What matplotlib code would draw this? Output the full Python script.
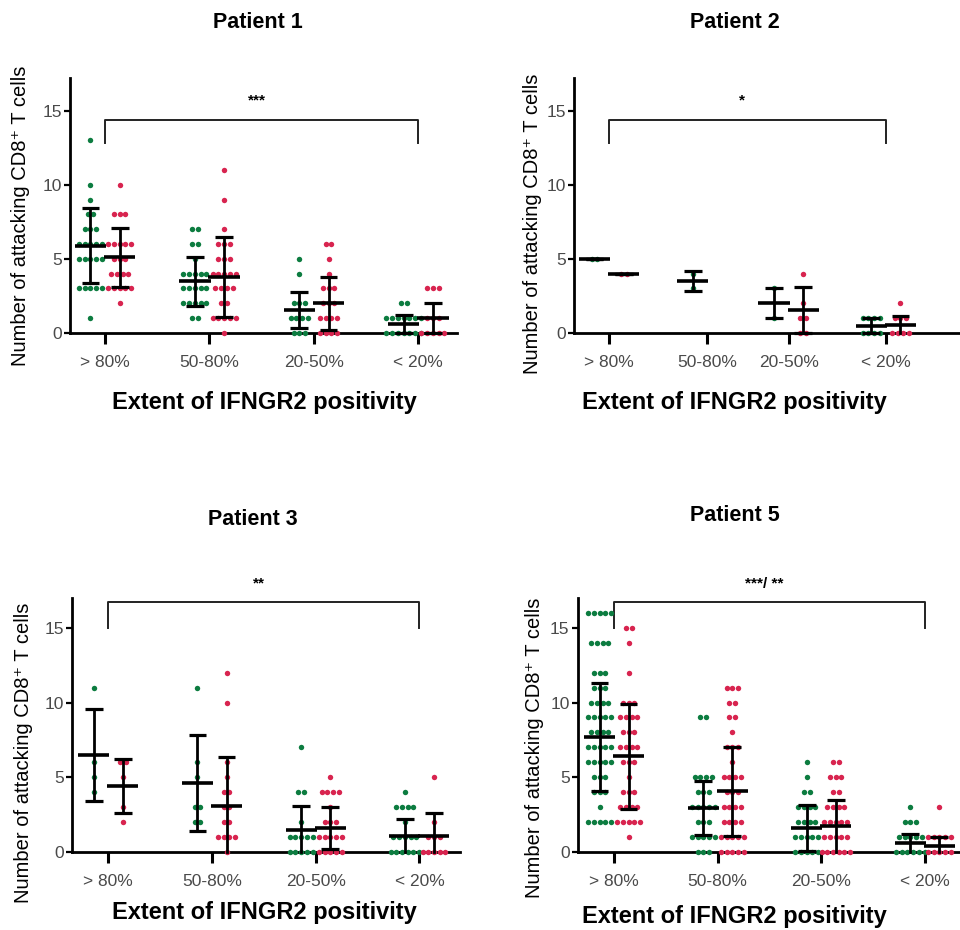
import matplotlib
matplotlib.use("Agg")
import matplotlib.pyplot as plt
import numpy as np

plt.rcParams['font.family'] = ['Liberation Sans', 'DejaVu Sans']

categories = ["> 80%", "50-80%", "20-50%", "< 20%"]

# patient 1
p1_green = [
    [13, 10, 9, 8, 8, 7, 7, 7, 6, 6, 6, 6, 6, 5, 5, 5, 5, 5, 3, 3, 3, 3, 3, 1],
    [7, 7, 6, 6, 5, 4, 4, 4, 4, 4, 3, 3, 3, 3, 3, 2, 2, 2, 2, 2, 1, 1],
    [5, 4, 2, 2, 2, 1, 1, 1, 1, 0, 0, 0],
    [2, 2, 1, 1, 1, 1, 1, 1, 1, 0, 0, 0, 0, 0, 0, 0],
]
p1_red = [
    [10, 8, 8, 8, 6, 6, 6, 6, 6, 5, 5, 5, 4, 4, 4, 4, 3, 3, 3, 3, 3, 2],
    [11, 9, 7, 6, 6, 6, 5, 5, 5, 4, 4, 4, 4, 4, 3, 3, 3, 3, 2, 2, 1, 1, 1, 1, 1, 0],
    [6, 6, 5, 4, 3, 3, 3, 2, 2, 2, 1, 1, 1, 1, 0, 0, 0, 0],
    [3, 3, 3, 1, 1, 1, 0, 0, 0, 0, 0],
]
p1_green_mean = [5.9, 3.5, 1.55, 0.6]
p1_green_sd = [2.5, 1.65, 1.2, 0.6]
p1_red_mean = [5.1, 3.8, 2.0, 1.0]
p1_red_sd = [2.0, 2.7, 1.8, 1.0]

# patient 2
p2_green = [[5, 5], [4, 3], [3, 1], [1, 1, 1, 1, 0, 0, 0, 0]]
p2_red = [[4, 4], [], [4, 2, 1, 1, 0, 0], [2, 1, 1, 1, 0, 0, 0, 0]]
p2_green_mean = [5.0, 3.5, 2.0, 0.5]
p2_green_sd = [0.0, 0.7, 1.0, 0.5]
p2_red_mean = [4.0, np.nan, 1.55, 0.55]
p2_red_sd = [0.0, np.nan, 1.55, 0.6]

# patient 3
p3_green = [
    [11, 6, 5, 4],
    [11, 6, 5, 3, 3, 2, 2],
    [7, 4, 4, 2, 1, 1, 1, 1, 1, 0, 0, 0, 0, 0],
    [4, 3, 3, 3, 3, 2, 1, 1, 1, 1, 1, 0, 0, 0, 0, 0, 0],
]
p3_red = [
    [6, 6, 5, 3, 2],
    [12, 10, 6, 5, 4, 4, 3, 3, 2, 2, 1, 1, 1, 1, 0],
    [5, 4, 4, 4, 4, 3, 2, 2, 2, 1, 1, 1, 1, 1, 0, 0, 0, 0, 0],
    [5, 2, 1, 1, 1, 0, 0, 0, 0, 0],
]
p3_green_mean = [6.5, 4.6, 1.45, 1.05]
p3_green_sd = [3.1, 3.2, 1.6, 1.15]
p3_red_mean = [4.4, 3.1, 1.6, 1.05]
p3_red_sd = [1.8, 3.25, 1.4, 1.55]

# patient 5
p5_green = [
    [16] * 5 + [14] * 4 + [12] * 3 + [11] * 3 + [10] * 4 + [9] * 5 + [8] * 4
    + [7] * 5 + [6] * 5 + [5] * 3 + [4] * 3 + [3] + [2] * 5,
    [9] * 2 + [5] * 4 + [4] * 3 + [3] * 5 + [2] * 3 + [1] * 5 + [0] * 3,
    [6, 5] + [4] * 2 + [3] * 4 + [2] * 4 + [1] * 5 + [0] * 5,
    [3] + [2] * 3 + [1] * 5 + [0] * 6,
]
p5_red = [
    [15] * 2 + [14, 12] + [10] * 3 + [9] * 4 + [8] * 3 + [7] * 4 + [6] * 3
    + [5] + [4] * 3 + [3] * 4 + [2] * 5 + [1],
    [11] * 3 + [10] * 2 + [9] * 2 + [8] + [7] * 3 + [6] + [5] * 4 + [4] * 3
    + [3] * 4 + [2] * 4 + [1] * 5 + [0] * 5,
    [6] * 2 + [5] * 3 + [4] * 2 + [3] * 4 + [2] * 5 + [1] * 5 + [0] * 6,
    [3] + [1] * 5 + [0] * 5,
]
p5_green_mean = [7.7, 2.95, 1.6, 0.58]
p5_green_sd = [3.6, 1.8, 1.55, 0.62]
p5_red_mean = [6.4, 4.05, 1.7, 0.42]
p5_red_sd = [3.5, 3.0, 1.75, 0.6]

green = '#0c7c40'
red = '#d8244f'
tick_gray = '#4a4a4a'

fig = plt.figure(figsize=(9.6, 9.3), dpi=100)

panels = [
    # title, significance, green data, red data, means/sds, axes rect, centers, xlim, ytop,
    # bracket, title pos, ylabel pos
    ("Patient 1", "***", p1_green, p1_red, (p1_green_mean, p1_green_sd, p1_red_mean, p1_red_sd),
     [0.073, 0.642, 0.403, 0.274], [0, 1, 2, 3], (-0.335, 3.37), 17.2, (14.4, 12.8),
     (0.269, 0.976), (-0.104, 0.46)),
    ("Patient 2", "*", p2_green, p2_red, (p2_green_mean, p2_green_sd, p2_red_mean, p2_red_sd),
     [0.598, 0.642, 0.402, 0.274], [0, 0.94, 1.72, 2.65], (-0.335, 3.36), 17.2, (14.4, 12.8),
     (0.766, 0.976), (-0.084, 0.43)),
    ("Patient 3", "**", p3_green, p3_red, (p3_green_mean, p3_green_sd, p3_red_mean, p3_red_sd),
     [0.075, 0.084, 0.404, 0.273], [0, 1, 2, 3], (-0.35, 3.39), 17.0, (16.7, 15.0),
     (0.263, 0.441), (-0.10, 0.39)),
    ("Patient 5", "***/ **", p5_green, p5_red, (p5_green_mean, p5_green_sd, p5_red_mean, p5_red_sd),
     [0.602, 0.084, 0.398, 0.273], [0, 1, 2, 3], (-0.35, 3.34), 17.0, (16.7, 15.0),
     (0.766, 0.446), (-0.088, 0.41)),
]

offset = 0.14
dot_step = 0.055

for title, sig, gdata, rdata, stats, rect, centers, xlim, ytop, br, tpos, lpos in panels:
    ax = fig.add_axes(rect)
    gm, gs, rm, rs = stats
    for i, c in enumerate(centers):
        for vals, xc, col in ((gdata[i], c - offset, green), (rdata[i], c + offset, red)):
            if len(vals) == 0:
                continue
            vals = np.array(vals)
            xs, ys = [], []
            for v in np.unique(vals):
                n = np.sum(vals == v)
                xs.extend(xc + (np.arange(n) - (n - 1) / 2) * dot_step)
                ys.extend([v] * n)
            ax.plot(xs, ys, 'o', color=col, ms=3.9, mec='none', clip_on=False, zorder=3)
        for m, s, xc in ((gm[i], gs[i], c - offset), (rm[i], rs[i], c + offset)):
            if np.isnan(m):
                continue
            lo = max(m - s, 0)
            ax.plot([xc - 0.15, xc + 0.15], [m, m], color='black', lw=2.6, zorder=4,
                    solid_capstyle='butt', clip_on=False)
            ax.plot([xc, xc], [lo, m + s], color='black', lw=2.0, zorder=4, clip_on=False)
            for y in (m - s, m + s):
                if y >= 0:
                    ax.plot([xc - 0.085, xc + 0.085], [y, y], color='black', lw=2.3,
                            zorder=4, solid_capstyle='butt', clip_on=False)

    ax.set_xlim(*xlim)
    ax.set_ylim(0, ytop)
    ax.spines['top'].set_visible(False)
    ax.spines['right'].set_visible(False)
    ax.spines['left'].set_linewidth(2.0)
    ax.spines['bottom'].set_linewidth(2.0)
    ax.set_xticks(centers, categories)
    ax.set_yticks([0, 5, 10, 15])
    ax.tick_params(axis='x', length=8, width=2.2, pad=8, labelsize=12.5, labelcolor=tick_gray)
    ax.tick_params(axis='y', length=4, width=1.6, pad=2, labelsize=12.5, labelcolor=tick_gray)
    ax.set_ylabel("Number of attacking CD8\u207a T cells", fontsize=14.5)
    ax.yaxis.set_label_coords(*lpos)
    fig.text(tpos[0], tpos[1], title, ha='center', va='center', fontsize=15.5, fontweight='bold')

    # significance bracket between first and last group
    x0, x1 = centers[0], centers[-1]
    ax.plot([x0, x0, x1, x1], [br[1], br[0], br[0], br[1]], color='#222222', lw=1.4,
            clip_on=False)
    ax.text((x0 + x1) / 2 - 0.05, br[0] + 0.8, sig, ha='center', va='bottom',
            fontsize=11, fontweight='bold', clip_on=False)

fig.text(0.275, 0.567, "Extent of IFNGR2 positivity", ha='center', va='center',
         fontsize=17, fontweight='bold')
fig.text(0.765, 0.567, "Extent of IFNGR2 positivity", ha='center', va='center',
         fontsize=17, fontweight='bold')
fig.text(0.275, 0.019, "Extent of IFNGR2 positivity", ha='center', va='center',
         fontsize=17, fontweight='bold')
fig.text(0.765, 0.015, "Extent of IFNGR2 positivity", ha='center', va='center',
         fontsize=17, fontweight='bold')

fig.savefig("out.png", dpi=100)
